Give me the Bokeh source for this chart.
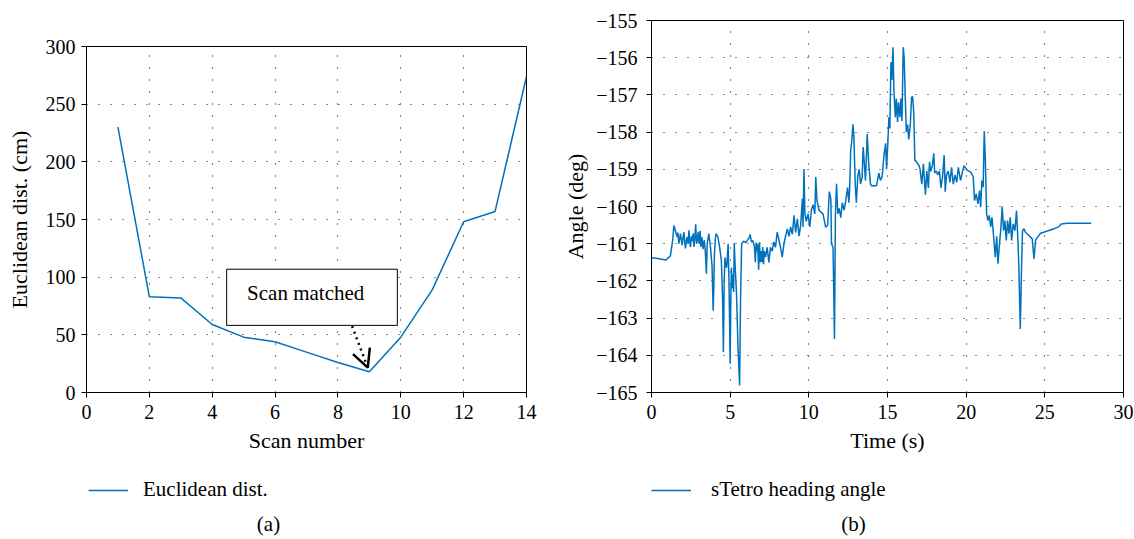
from bokeh.plotting import figure
from bokeh.layouts import row, column
from bokeh.models import (Range1d, FixedTicker, Legend, LegendItem, Label,
                          BoxAnnotation, Arrow, OpenHead)
from bokeh.embed import file_html
from bokeh.resources import INLINE

# ---------------- data: panel (a) ----------------
scan_number = [1, 2, 3, 4, 5, 6, 7, 8, 9, 10, 11, 12, 13, 14]
euclid_dist = [230, 83, 82, 59, 48, 44, 35, 26, 18, 48, 89, 148, 157, 274]
a_xticks = [0, 2, 4, 6, 8, 10, 12, 14]
a_yticks = [0, 50, 100, 150, 200, 250, 300]

# ---------------- data: panel (b) ----------------
time_s = [
    0.0, 0.4, 0.9, 1.2, 1.35, 1.42, 1.52, 1.63, 1.68, 1.74, 1.84, 1.95, 2.0, 2.06, 2.11,
    2.16, 2.22, 2.27, 2.33, 2.38, 2.43, 2.48, 2.54, 2.59, 2.65, 2.70, 2.76, 2.81, 2.86, 2.92,
    2.97, 3.03, 3.09, 3.14, 3.2, 3.28, 3.35, 3.42, 3.49, 3.54, 3.64, 3.75, 3.85, 3.92, 3.96,
    4.0, 4.06, 4.11, 4.22, 4.33, 4.44, 4.52, 4.57, 4.62, 4.67, 4.72, 4.78, 4.83, 4.87, 4.92,
    4.96, 5.0, 5.04, 5.08, 5.13, 5.17, 5.22, 5.26, 5.32, 5.4, 5.5, 5.6, 5.66, 5.73, 5.85,
    6.0, 6.1, 6.2, 6.27, 6.35, 6.45, 6.55, 6.6, 6.65, 6.7, 6.75, 6.81, 6.86, 6.92, 6.97,
    7.02, 7.07, 7.12, 7.17, 7.25, 7.35, 7.46, 7.56, 7.67, 7.78, 7.88, 7.99, 8.1, 8.2, 8.31,
    8.42, 8.52, 8.63, 8.74, 8.84, 8.95, 9.06, 9.16, 9.27, 9.38, 9.48, 9.59, 9.63, 9.69, 9.75,
    9.84, 9.95, 10.06, 10.16, 10.27, 10.38, 10.44, 10.52, 10.65, 10.76, 10.9, 11.07, 11.2, 11.3, 11.4,
    11.44, 11.54, 11.63, 11.69, 11.76, 11.84, 11.93, 12.03, 12.13, 12.24, 12.35, 12.46, 12.55, 12.6, 12.66,
    12.74, 12.8, 12.86, 12.95, 13.02, 13.11, 13.2, 13.29, 13.39, 13.45, 13.5, 13.6, 13.71, 13.8, 13.92,
    14.0, 14.13, 14.3, 14.45, 14.55, 14.66, 14.77, 14.88, 14.94, 15.02, 15.09, 15.15, 15.22, 15.28, 15.35,
    15.41, 15.5, 15.56, 15.64, 15.7, 15.79, 15.85, 15.92, 16.0, 16.06, 16.13, 16.2, 16.28, 16.35, 16.45,
    16.53, 16.6, 16.67, 16.74, 16.85, 17.0, 17.07, 17.18, 17.28, 17.41, 17.5, 17.6, 17.67, 17.74, 17.85,
    17.94, 18.0, 18.1, 18.2, 18.3, 18.4, 18.5, 18.6, 18.67, 18.75, 18.86, 18.97, 19.07, 19.18, 19.29,
    19.4, 19.5, 19.64, 19.86, 20.07, 20.28, 20.45, 20.53, 20.64, 20.75, 20.85, 20.92, 21.0, 21.08, 21.15,
    21.22, 21.3, 21.39, 21.47, 21.56, 21.64, 21.73, 21.85, 21.94, 22.02, 22.12, 22.21, 22.29, 22.38, 22.46,
    22.55, 22.63, 22.72, 22.8, 22.89, 22.99, 23.1, 23.2, 23.29, 23.35, 23.44, 23.52, 23.58, 23.67, 23.77,
    23.99, 24.2, 24.31, 24.41, 24.56, 24.73, 25.16, 25.58, 25.9, 26.04, 26.42, 27.27, 27.95,
]
heading_deg = [
    -161.38, -161.40, -161.44, -161.33, -160.90, -160.51, -160.65, -160.82, -160.70, -161.00, -160.73, -161.04, -160.85, -160.69, -160.95,
    -161.13, -160.90, -160.82, -161.00, -160.64, -160.90, -161.09, -160.80, -160.93, -160.72, -161.09, -160.80, -160.48, -161.00, -160.90,
    -160.68, -161.00, -160.65, -161.09, -160.82, -161.15, -160.90, -161.20, -161.81, -161.00, -160.73, -161.10, -161.60, -162.80, -162.20,
    -161.30, -160.85, -160.73, -160.82, -161.10, -161.45, -162.50, -163.91, -162.00, -161.37, -161.60, -161.64, -161.30, -161.00, -161.90,
    -163.00, -164.23, -162.50, -161.64, -162.20, -161.83, -162.30, -160.98, -161.64, -162.30, -163.80, -164.81, -162.50, -161.00, -160.93,
    -160.97, -160.90, -160.85, -160.75, -160.95, -160.92, -161.10, -161.50, -160.97, -161.20, -161.00, -161.70, -160.96, -161.50, -161.20,
    -161.50, -161.09, -161.55, -161.20, -161.36, -161.10, -161.50, -161.10, -161.20, -160.95, -161.10, -160.69, -160.90, -161.10, -161.36,
    -161.00, -160.80, -160.60, -160.80, -160.55, -160.75, -160.24, -160.70, -160.33, -160.80, -160.50, -159.79, -160.55, -158.99, -160.20,
    -160.40, -160.20, -160.55, -160.10, -159.95, -160.20, -159.21, -159.85, -160.10, -160.15, -160.20, -160.56, -160.50, -159.60, -159.80,
    -161.00, -161.10, -163.56, -160.20, -159.39, -160.20, -160.05, -160.30, -159.90, -160.10, -159.85, -159.49, -159.90, -159.45, -158.50,
    -158.20, -157.79, -158.10, -159.40, -159.90, -159.20, -159.00, -159.39, -159.21, -158.40, -158.67, -159.30, -158.05, -158.80, -159.40,
    -159.45, -159.44, -159.44, -159.10, -159.30, -159.20, -158.65, -158.30, -159.00, -158.30, -157.60, -157.90, -156.12, -156.60, -155.72,
    -156.90, -157.60, -157.10, -157.73, -157.20, -157.60, -157.10, -157.70, -155.72, -156.00, -157.10, -158.00, -157.80, -158.20, -157.80,
    -157.06, -157.05, -157.50, -158.76, -158.80, -158.90, -159.00, -159.40, -158.85, -159.68, -159.05, -159.50, -158.80, -159.06, -158.90,
    -158.57, -159.10, -159.05, -159.15, -159.05, -159.50, -159.20, -158.62, -159.60, -159.15, -159.05, -159.35, -158.95, -159.40, -159.15,
    -159.35, -158.95, -159.30, -158.90, -159.03, -159.07, -159.20, -159.84, -159.66, -159.93, -159.57, -160.02, -159.30, -159.48, -157.98,
    -158.76, -160.20, -160.38, -160.24, -160.55, -160.29, -160.73, -161.36, -160.80, -161.54, -161.00, -160.56, -160.00, -160.65, -160.38,
    -160.91, -160.38, -160.73, -160.29, -160.91, -160.47, -160.65, -160.11, -160.91, -161.63, -163.29, -161.63, -160.65, -160.60, -160.69,
    -160.78, -160.87, -161.41, -160.91, -160.81, -160.72, -160.66, -160.60, -160.54, -160.47, -160.45, -160.45, -160.45,
]
assert len(time_s) == len(heading_deg)
b_xticks = [0, 5, 10, 15, 20, 25, 30]
b_yticks = [-165, -164, -163, -162, -161, -160, -159, -158, -157, -156, -155]
b_ylabels = ["\u2212165", "\u2212164", "\u2212163", "\u2212162", "\u2212161", "\u2212160",
             "\u2212159", "\u2212158", "\u2212157", "\u2212156", "\u2212155"]

FONT = "Liberation Serif"
BLUE = "#0072BD"
FS = "22px"
TFS = "20px"
LFS = "21px"
MAIN_H = 460
FOOT_H = 78


def style(p, xticks, yticks, ylabels=None, ystd=6, ylab_std=8):
    p.xaxis.ticker = FixedTicker(ticks=xticks)
    p.yaxis.ticker = FixedTicker(ticks=yticks)
    if ylabels is not None:
        p.yaxis.major_label_overrides = {t: l for t, l in zip(yticks, ylabels)}
    for ax in (p.xaxis[0], p.yaxis[0]):
        ax.axis_line_color = "black"
        ax.axis_line_width = 1
        ax.major_tick_line_color = "black"
        ax.major_tick_in = 0
        ax.major_tick_out = 5
        ax.minor_tick_line_color = None
        ax.major_label_text_font = FONT
        ax.major_label_text_font_size = TFS
        ax.major_label_text_color = "black"
        ax.axis_label_text_font = FONT
        ax.axis_label_text_font_size = FS
        ax.axis_label_text_font_style = "normal"
        ax.axis_label_text_color = "black"
    p.xaxis.major_label_standoff = 7
    p.yaxis.major_label_standoff = ystd
    p.xaxis.axis_label_standoff = 6
    p.yaxis.axis_label_standoff = ylab_std
    for g in (p.xgrid[0], p.ygrid[0]):
        g.grid_line_color = "black"
        g.grid_line_dash = "1 11"
        g.grid_line_width = 1.2
        g.grid_line_alpha = 0.9
    p.outline_line_color = "black"
    p.outline_line_width = 1
    p.outline_line_alpha = 1
    p.background_fill_color = "white"
    p.border_fill_color = "white"


def footer(width, frame_w, xs, ys, text, legend_x, std, caption, cap_x):
    # footer frame is aligned with the main frame above it; coordinates are pixels from frame left
    f = figure(width=width, height=FOOT_H, output_backend="svg", toolbar_location=None,
               x_range=Range1d(0, frame_w), y_range=Range1d(0, FOOT_H),
               x_axis_type=None, y_axis_type=None,
               min_border_left=0, min_border_right=0, min_border_top=0, min_border_bottom=0)
    f.grid.visible = False
    f.outline_line_color = None
    swatch = f.line(xs, ys, line_color=BLUE, line_width=1.5, visible=False)
    leg = Legend(items=[LegendItem(label=text, renderers=[swatch])],
                 location=(legend_x, 36), border_line_color=None, background_fill_alpha=0,
                 padding=0, margin=0, glyph_width=40, glyph_height=20,
                 label_standoff=std, label_height=20,
                 label_text_font=FONT, label_text_font_size=LFS, label_text_color="black")
    f.add_layout(leg)
    f.add_layout(Label(x=cap_x, y=15, text=caption, text_font=FONT, text_font_size="21px",
                       text_align="center", text_baseline="middle", text_color="black"))
    return f


# ---------------- panel (a) ----------------
pa = figure(width=560, height=MAIN_H, output_backend="svg", toolbar_location=None,
            x_range=Range1d(0, 14), y_range=Range1d(0, 300),
            min_border_left=86, min_border_right=34, min_border_top=46, min_border_bottom=68)
pa.line(scan_number, euclid_dist, line_color=BLUE, line_width=1.5)
pa.xaxis.axis_label = "Scan number"
pa.yaxis.axis_label = "Euclidean dist. (cm)"
style(pa, a_xticks, a_yticks, ystd=6, ylab_std=11)

pa.add_layout(BoxAnnotation(left=4.46, right=9.89, bottom=58.2, top=106.9,
                            fill_color="white", fill_alpha=1.0,
                            line_color="black", line_width=1, line_alpha=1))
pa.add_layout(Label(x=5.11, y=86.3, text="Scan matched", text_font=FONT,
                    text_font_size="21px", text_baseline="middle", text_align="left",
                    text_color="black"))
pa.add_layout(Arrow(end=OpenHead(size=18, line_width=2.5, line_color="black"),
                    x_start=8.45, y_start=57.5, x_end=8.95, y_end=21.5,
                    line_dash="dotted", line_width=2.5, line_color="black"))
fa = footer(560, 440, scan_number, euclid_dist, "Euclidean dist.", 2, 15, "(a)", 182)

# ---------------- panel (b) ----------------
pb = figure(width=574, height=MAIN_H, output_backend="svg", toolbar_location=None,
            x_range=Range1d(0, 30), y_range=Range1d(-165, -155),
            min_border_left=91, min_border_right=11, min_border_top=20, min_border_bottom=68)
pb.line(time_s, heading_deg, line_color=BLUE, line_width=1.5)
pb.xaxis.axis_label = "Time (s)"
pb.yaxis.axis_label = "Angle (deg)"
style(pb, b_xticks, b_yticks, b_ylabels, ystd=9, ylab_std=5)
fb = footer(574, 472, time_s, heading_deg, "sTetro heading angle", 0, 20, "(b)", 202)

layout = row(column(pa, fa), column(pb, fb))
open("out.html", "w").write(file_html(layout, INLINE))
